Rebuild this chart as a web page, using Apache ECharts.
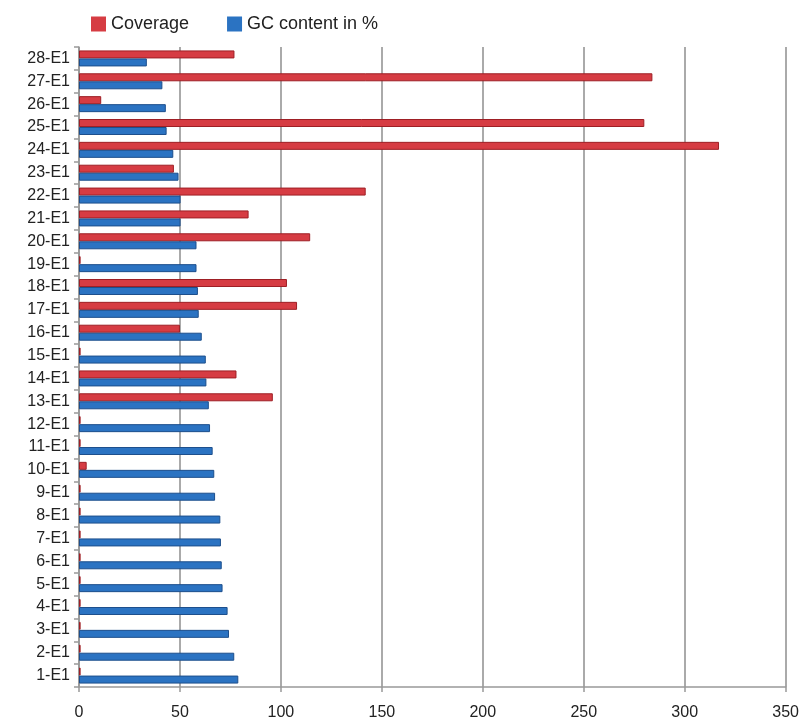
<!DOCTYPE html>
<html>
<head>
<meta charset="utf-8">
<script src="https://cdn.jsdelivr.net/npm/echarts@6/dist/echarts.min.js"></script>
<style>
	html, body { margin: 0; padding: 0; background: #fff; }
	#chart { width: 802px; height: 721px; }
</style>
</head>
<body>
<div id="chart"></div>
<script>
// categories from bottom (1-E1) to top (28-E1)
var categories = ['1-E1', '2-E1', '3-E1', '4-E1', '5-E1', '6-E1', '7-E1', '8-E1', '9-E1', '10-E1',
	'11-E1', '12-E1', '13-E1', '14-E1', '15-E1', '16-E1', '17-E1', '18-E1', '19-E1', '20-E1',
	'21-E1', '22-E1', '23-E1', '24-E1', '25-E1', '26-E1', '27-E1', '28-E1'];

var coverage = [0.8, 0.8, 0.8, 0.8, 0.8, 0.8, 0.8, 0.8, 0.8, 3.8,
	0.8, 0.8, 96, 78, 0.8, 50, 108, 103, 0.8, 114.5,
	84, 142, 47, 317, 280, 11, 284, 77];

var gcContent = [78.9, 76.9, 74.3, 73.6, 71.1, 70.7, 70.3, 70, 67.4, 67,
	66.2, 64.9, 64.3, 63.1, 62.8, 60.8, 59.3, 58.9, 58.2, 58.2,
	50.3, 50.3, 49.3, 46.7, 43.4, 43, 41.3, 33.6];

var xTicks = [0, 50, 100, 150, 200, 250, 300, 350];

var chart = echarts.init(document.getElementById('chart'));

var option = {
	animation: false,
	textStyle: {
		fontFamily: 'Liberation Sans, Arial, sans-serif'
	},
	legend: {
		data: ['Coverage', 'GC content in %'],
		left: 86,
		top: 10,
		itemWidth: 15,
		itemHeight: 15,
		itemGap: 38,
		icon: 'rect',
		itemStyle: { borderWidth: 0 },
		textStyle: {
			fontSize: 18,
			color: '#222'
		}
	},
	grid: {
		left: 79,
		right: 13,
		top: 47,
		bottom: 29,
		containLabel: false
	},
	xAxis: {
		type: 'value',
		min: xTicks[0],
		max: xTicks[xTicks.length - 1],
		interval: 50,
		axisLine: { show: true, lineStyle: { color: '#999', width: 1.5 } },
		axisTick: { show: true, length: 5, lineStyle: { color: '#999', width: 1.5 } },
		axisLabel: { fontSize: 16, color: '#222', margin: 18 },
		splitLine: { show: true, lineStyle: { color: '#8e8e8e', width: 1.5 } }
	},
	yAxis: {
		type: 'category',
		data: categories,
		axisLine: { show: true, lineStyle: { color: '#999', width: 1.5 } },
		axisTick: { show: true, length: 5, lineStyle: { color: '#999', width: 1.5 } },
		axisLabel: { fontSize: 16, color: '#222', margin: 9 }
	},
	series: [{
		name: 'Coverage',
		type: 'bar',
		data: coverage,
		barCategoryGap: '30%',
		barGap: '0%',
		itemStyle: {
			color: '#d63c43',
			borderColor: '#9e1f25',
			borderWidth: 1
		}
	}, {
		name: 'GC content in %',
		type: 'bar',
		data: gcContent,
		barCategoryGap: '30%',
		barGap: '0%',
		itemStyle: {
			color: '#2b73c2',
			borderColor: '#1d4f8c',
			borderWidth: 1
		}
	}]
};

chart.setOption(option);
</script>
</body>
</html>
